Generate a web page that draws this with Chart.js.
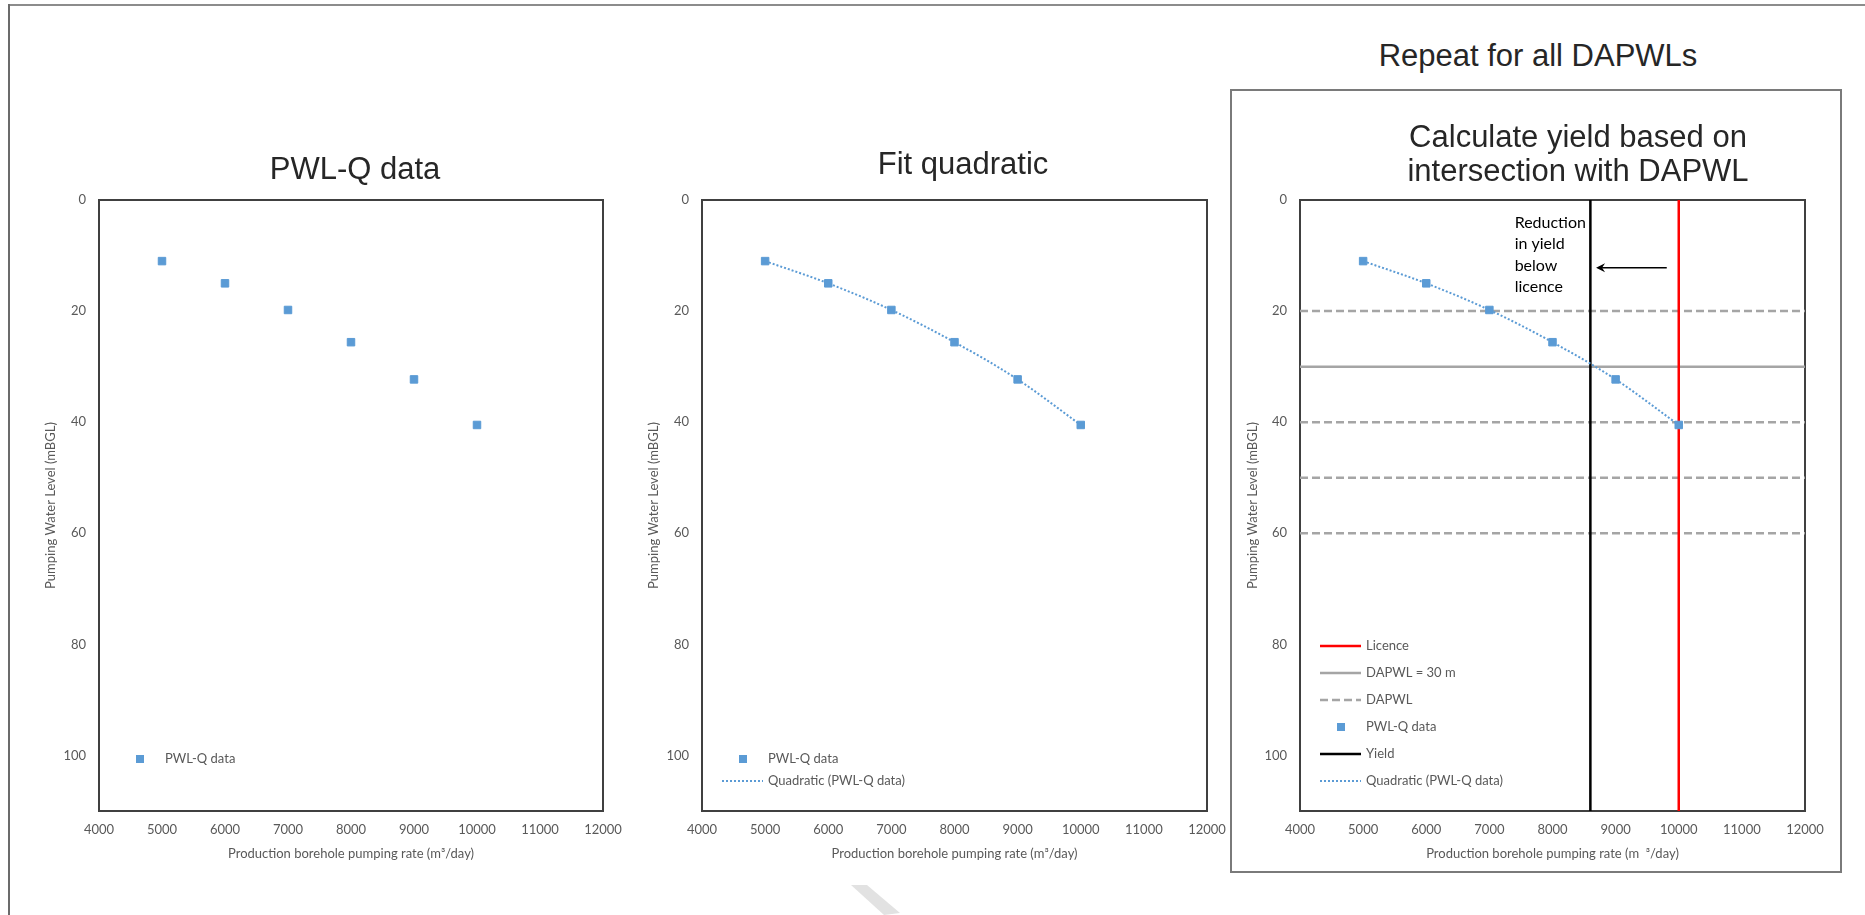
<!DOCTYPE html>
<html>
<head>
<meta charset="utf-8">
<script src="https://cdn.jsdelivr.net/npm/chart.js@4.4.1/dist/chart.umd.min.js"></script>
<style>
  html, body { margin: 0; padding: 0; background: #fff; }
  body { width: 1865px; height: 915px; position: relative; overflow: hidden; }
  canvas { position: absolute; }
  #frameTop { position: absolute; left: 9px; top: 4px; width: 1856px; height: 2px; background: #8c8c8c; }
  #frameLeft { position: absolute; left: 8px; top: 4px; width: 2px; height: 911px; background: #6b6b6b; }
  #box3 { position: absolute; left: 1230px; top: 89px; width: 608px; height: 780px; border: 2px solid #7a7a7a; }
  #repeat { position: absolute; left: 1238px; top: 38px; width: 600px; text-align: center;
            font: 31px "Liberation Sans", Arial, sans-serif; line-height: 36px; color: #262626; }
  #mark { position: absolute; left: 848px; top: 885px; width: 56px; height: 30px; background: #e2e2e2;
          clip-path: polygon(3px 0, 19px 0, 52px 28px, 36px 30px); }
</style>
</head>
<body>
<div id="frameTop"></div>
<div id="frameLeft"></div>
<div id="box3"></div>
<div id="mark"></div>
<div id="repeat">Repeat for all DAPWLs</div>
<canvas id="c1" width="690" height="766" style="left:10px;top:100px"></canvas>
<canvas id="c2" width="686" height="766" style="left:620px;top:100px"></canvas>
<canvas id="c3" width="686" height="771" style="left:1235px;top:95px"></canvas>
<script>
// data
const pumpingRates = [5000, 6000, 7000, 8000, 9000, 10000];   // m3/day
const waterLevels = [11.0, 15.0, 19.8, 25.6, 32.3, 40.5];      // mBGL
const xTicks = [4000, 5000, 6000, 7000, 8000, 9000, 10000, 11000, 12000];
const yTicks = [0, 20, 40, 60, 80, 100];
const xMin = 4000, xMax = 12000;
const yMin = 0, yMax = 110;
const licenceRate = 10000;
const yieldRate = 8600;
const dapwlTarget = 30;
const dapwlLevels = [20, 40, 50, 60];
const calloutLines = ['Reduction', 'in yield', 'below', 'licence'];

const blue = '#5b9bd5';
const tickGrey = '#595959';
const lineGrey = '#a5a5a5';

const pwlq = pumpingRates.map((x, i) => ({x: x, y: waterLevels[i]}));

// frame round the plot area
const plotFrame = {
  id: 'plotFrame',
  beforeDatasetsDraw(chart) {
    const a = chart.chartArea, ctx = chart.ctx;
    ctx.save();
    ctx.strokeStyle = '#404040';
    ctx.lineWidth = 2;
    ctx.strokeRect(a.left, a.top, a.right - a.left, a.bottom - a.top);
    ctx.restore();
  }
};

// legend drawn inside the plot, bottom left
const insetLegend = {
  id: 'insetLegend',
  afterDatasetsDraw(chart, args, opts) {
    const a = chart.chartArea, ctx = chart.ctx;
    ctx.save();
    ctx.font = '13px Lato';
    ctx.textBaseline = 'middle';
    chart.data.datasets.forEach((ds, i) => {
      const y = a.bottom - opts.start + i * opts.gap;
      const x0 = a.left + 20, x1 = a.left + 61;
      if (ds.showLine) {
        ctx.strokeStyle = ds.borderColor;
        ctx.lineWidth = ds.borderWidth;
        ctx.setLineDash(ds.borderDash || []);
        ctx.beginPath();
        ctx.moveTo(x0, y);
        ctx.lineTo(x1, y);
        ctx.stroke();
        ctx.setLineDash([]);
      } else {
        ctx.fillStyle = ds.backgroundColor;
        ctx.fillRect(a.left + 37, y - 4, 8, 8);
      }
      ctx.fillStyle = tickGrey;
      ctx.fillText(ds.label, a.left + 66, y);
    });
    ctx.restore();
  }
};

// text and arrow for the reduction note
const callout = {
  id: 'callout',
  afterDatasetsDraw(chart, args, opts) {
    if (!opts.lines) return;
    const sx = chart.scales.x, sy = chart.scales.y, ctx = chart.ctx;
    ctx.save();
    ctx.font = '16px Lato';
    ctx.fillStyle = '#000';
    ctx.textBaseline = 'middle';
    const tx = sx.getPixelForValue(opts.textX);
    const ty = sy.getPixelForValue(opts.textY);
    opts.lines.forEach((t, i) => ctx.fillText(t, tx, ty + i * 21.3));
    const ay = sy.getPixelForValue(opts.arrowY);
    const ax0 = sx.getPixelForValue(opts.arrowFrom);
    const ax1 = sx.getPixelForValue(opts.arrowTo);
    ctx.strokeStyle = '#000';
    ctx.lineWidth = 1.5;
    ctx.beginPath();
    ctx.moveTo(ax0, ay);
    ctx.lineTo(ax1 + 6, ay);
    ctx.stroke();
    ctx.beginPath();
    ctx.moveTo(ax1, ay);
    ctx.lineTo(ax1 + 9, ay - 4.5);
    ctx.lineTo(ax1 + 6, ay);
    ctx.lineTo(ax1 + 9, ay + 4.5);
    ctx.closePath();
    ctx.fill();
    ctx.restore();
  }
};

function pointsSet() {
  return {
    label: 'PWL-Q data',
    data: pwlq,
    pointStyle: 'rect',
    pointRadius: 5.3,
    pointBorderWidth: 1,
    backgroundColor: blue,
    borderColor: blue,
    showLine: false,
    order: 0
  };
}

function quadSet() {
  return {
    label: 'Quadratic (PWL-Q data)',
    data: pwlq,
    showLine: true,
    borderColor: blue,
    borderWidth: 2,
    borderDash: [2, 2],
    pointRadius: 0,
    cubicInterpolationMode: 'monotone',
    order: 1
  };
}

function makeOptions(o) {
  return {
    responsive: false,
    animation: false,
    events: [],
    layout: { padding: 0 },
    plugins: {
      legend: { display: false },
      tooltip: { enabled: false },
      title: {
        display: true,
        text: o.title,
        color: '#262626',
        font: { family: 'Liberation Sans', size: 31, weight: 'normal', lineHeight: o.titleLine },
        padding: { top: o.titleTop, bottom: o.titleBottom }
      },
      insetLegend: o.legend,
      callout: o.callout || {}
    },
    scales: {
      x: {
        type: 'linear',
        min: xMin, max: xMax,
        grid: { display: false, drawTicks: false },
        border: { display: false },
        afterBuildTicks: s => { s.ticks = xTicks.map(v => ({value: v})); },
        ticks: { color: tickGrey, font: { family: 'Lato', size: 13 }, padding: 11, maxRotation: 0, autoSkip: false,
                 callback: v => String(v) },
        title: { display: true, text: o.xTitle, color: tickGrey, font: { family: 'Lato', size: 13 },
                 padding: { top: 0, bottom: 4 } },
        afterFit: s => { s.height = 55; }
      },
      y: {
        type: 'linear',
        reverse: true,
        min: yMin, max: yMax,
        grid: { display: false, drawTicks: false },
        border: { display: false },
        afterBuildTicks: s => { s.ticks = yTicks.map(v => ({value: v})); },
        ticks: { color: tickGrey, font: { family: 'Lato', size: 13 }, padding: 13 },
        title: { display: true, text: 'Pumping Water Level (mBGL)', color: tickGrey, font: { family: 'Lato', size: 13 },
                 padding: { top: o.yTitlePad, bottom: 0 } },
        afterFit: s => { s.width = o.axisWidth; }
      },
      pad: {
        type: 'linear',
        axis: 'y',
        position: 'right',
        display: true,
        grid: { display: false, drawTicks: false },
        border: { display: false },
        ticks: { display: false },
        afterFit: s => { s.width = o.rightWidth; }
      }
    }
  };
}

const xTitle = 'Production borehole pumping rate (m³/day)';

new Chart(document.getElementById('c1'), {
  type: 'scatter',
  data: { datasets: [pointsSet()] },
  options: makeOptions({
    title: 'PWL-Q data', titleLine: 1.2, titleTop: 51.9, titleBottom: 10.9,
    xTitle: xTitle, yTitlePad: 33.2, axisWidth: 89, rightWidth: 97,
    legend: { start: 52, gap: 22 }
  }),
  plugins: [plotFrame, insetLegend]
});

new Chart(document.getElementById('c2'), {
  type: 'scatter',
  data: { datasets: [pointsSet(), quadSet()] },
  options: makeOptions({
    title: 'Fit quadratic', titleLine: 1.2, titleTop: 46.9, titleBottom: 15.9,
    xTitle: xTitle, yTitlePad: 26.2, axisWidth: 82, rightWidth: 99,
    legend: { start: 52, gap: 22 }
  }),
  plugins: [plotFrame, insetLegend]
});

const dapwlData = [];
dapwlLevels.forEach(l => {
  dapwlData.push({x: xMin, y: l}, {x: xMax, y: l}, {x: xMax, y: null});
});

new Chart(document.getElementById('c3'), {
  type: 'scatter',
  data: {
    datasets: [
      { label: 'Licence', data: [{x: licenceRate, y: yMin}, {x: licenceRate, y: yMax}],
        showLine: true, borderColor: '#ff0000', borderWidth: 2.5, pointRadius: 0, order: 2 },
      { label: 'DAPWL = 30 m', data: [{x: xMin, y: dapwlTarget}, {x: xMax, y: dapwlTarget}],
        showLine: true, borderColor: lineGrey, borderWidth: 2.5, pointRadius: 0, order: 4 },
      { label: 'DAPWL', data: dapwlData, spanGaps: false,
        showLine: true, borderColor: lineGrey, borderWidth: 2.5, borderDash: [8, 4], pointRadius: 0, order: 5 },
      pointsSet(),
      { label: 'Yield', data: [{x: yieldRate, y: yMin}, {x: yieldRate, y: yMax}],
        showLine: true, borderColor: '#000000', borderWidth: 2.5, pointRadius: 0, order: 3 },
      quadSet()
    ]
  },
  options: makeOptions({
    title: ['Calculate yield based on', 'intersection with DAPWL'], titleLine: 34 / 31, titleTop: 26.5, titleBottom: 10.5,
    xTitle: 'Production borehole pumping rate (m  ³/day)', yTitlePad: 10.2, axisWidth: 65, rightWidth: 116,
    legend: { start: 165, gap: 27 },
    callout: { lines: calloutLines, textX: 7400, textY: 4.1, arrowY: 12.2, arrowFrom: 9810, arrowTo: 8690 }
  }),
  plugins: [plotFrame, insetLegend, callout]
});
</script>
</body>
</html>
